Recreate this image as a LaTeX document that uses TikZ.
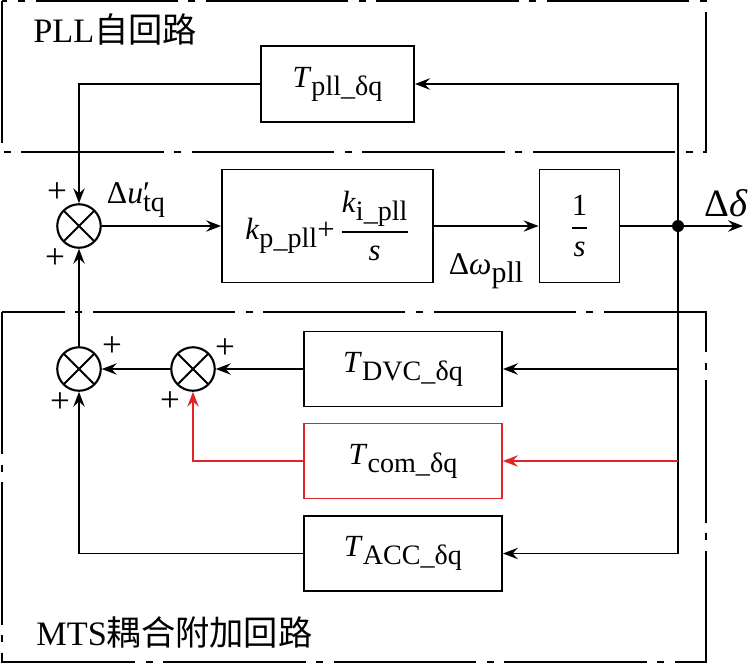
\documentclass[tikz,border=0pt]{standalone}
\usepackage{amsmath}
\usepackage{fontspec}
\setmainfont{Liberation Serif}
\newfontfamily\cjk{Noto Sans CJK SC}
\usepackage{tikz}
\usetikzlibrary{arrows.meta}
\definecolor{comred}{RGB}{222,38,38}
\newcommand{\tsub}[2]{\textit{#1}\raisebox{-4.5pt}{\fontsize{16}{16}\selectfont #2}}
\newcommand{\myfrac}[2]{$\genfrac{}{}{1pt}{0}{\mbox{#1}}{\mbox{#2}}$}
\tikzset{
  myarrow/.style={
    draw=black,
    line width=0.75pt,
    >={Stealth[length=8.5pt, width=6.5pt, inset=3pt]},
    ->,
  },
  myblock/.style={
    draw=black,
    shape=rectangle,
    line width=1.1pt,
    align=center,
    inner sep=0pt,
    font=\fontsize{17.5}{21}\selectfont
  },
  mysum/.style={
    draw=black,
    shape=circle,
    line width=1.2pt,
    inner sep=0pt,
    minimum size=0.87cm,
    path picture={
      \draw [line width=1.1pt]
        (path picture bounding box.north west) -- (path picture bounding box.south east)
        (path picture bounding box.north east) -- (path picture bounding box.south west);
    },
  },
  mydot/.style={
    shape=circle,
    fill=black,
    inner sep=0pt,
    minimum size=0.24cm,
  },
  myplus/.style={
    inner sep=0pt,
    font=\fontsize{20}{20}\selectfont
  },
  mysignal/.style={
    inner sep=0pt,
    font=\fontsize{18}{21}\selectfont
  },
  mylabel/.style={
    anchor=west,
    inner sep=0pt,
    font=\fontsize{19.5}{23}\selectfont
  },
  myregion/.style={
    draw=black,
    line width=1.4pt,
    dash pattern=on 81pt off 6pt on 4pt off 6pt,
  }
}

\begin{document}
\begin{tikzpicture}
    \useasboundingbox (-1.58, 4.52) rectangle (13.50, -8.78);

    % loop regions
    \draw [myregion] (-1.54, 4.50) rectangle (12.54,  1.48);
    \draw [myregion] (-1.54, -1.72) rectangle (12.54, -8.72);
    \node [mylabel] (pllname) at (-0.92,  3.94) {PLL{\cjk 自回路}};
    \node [mylabel] (mtsname) at (-0.86, -8.12) {MTS{\cjk 耦合附加回路}};

    \node [mysum] (s1) at (0.00,  0.00) {};
    \node [mysum] (s2) at (0.00, -2.86) {};
    \node [mysum] (s3) at (2.28, -2.86) {};

    \node [myblock, minimum width=3.06cm, minimum height=1.52cm] (Tpll) at (5.17, 2.84) {\tsub{T}{pll\_δq}};
    \node [myblock, minimum width=4.22cm, minimum height=2.26cm] (pi) at (4.97, 0.00)
      {\tsub{k}{p\_pll}+\,\myfrac{\tsub{k}{i\_pll}}{\textit{s}}};
    \node [myblock, minimum width=1.60cm, minimum height=2.26cm] (inv) at (10.01, 0.00) {\myfrac{1}{\textit{s}}};
    \node [mydot] (tap) at (11.98, 0.00) {};
    \coordinate (out) at (13.28, 0.00);

    \node [myblock, minimum width=3.96cm, minimum height=1.50cm] (Tdvc) at (6.48, -2.86) {\tsub{T}{DVC\_δq}};
    \node [myblock, minimum width=3.96cm, minimum height=1.50cm, draw=comred] (Tcom) at (6.48, -4.70) {\tsub{T}{com\_δq}};
    \node [myblock, minimum width=3.96cm, minimum height=1.50cm] (Tacc) at (6.48, -6.55) {\tsub{T}{ACC\_δq}};

    % signal names
    \node [mysignal] (du) at (1.14,  0.52) {Δ\textit{u}\rlap{′}\raisebox{-4.5pt}{\fontsize{16}{16}\selectfont tq}};
    \node [mysignal] (dw) at (8.14, -0.90) {Δ\textit{ω}\raisebox{-4.5pt}{\fontsize{17}{17}\selectfont pll}};
    \node [mysignal, font=\fontsize{22}{24}\selectfont] (dd) at (12.94, 0.46) {Δ\textit{δ}};

    % signs
    \node [myplus] at ([shift={(-0.44, 0.66)}]s1) {+};
    \node [myplus] at ([shift={(-0.48,-0.66)}]s1) {+};
    \node [myplus] at ([shift={( 0.66, 0.44)}]s2) {+};
    \node [myplus] at ([shift={(-0.38,-0.68)}]s2) {+};
    \node [myplus] at ([shift={( 0.64, 0.40)}]s3) {+};
    \node [myplus] at ([shift={(-0.46,-0.66)}]s3) {+};

    % forward path
    \draw [myarrow] (s1) -- (pi);
    \draw [myarrow] (pi) -- (inv);
    \draw [myarrow] (inv) -- (out);

    % feedback paths
    \draw [myarrow] (tap) |- (Tpll);
    \draw [myarrow] (tap) |- (Tacc);
    \draw [myarrow] (tap |- Tdvc) -- (Tdvc);
    \draw [myarrow, draw=comred] (tap |- Tcom) -- (Tcom);
    \draw [myarrow] (Tpll) -| (s1);
    \draw [myarrow] (Tdvc) -- (s3);
    \draw [myarrow, draw=comred] (Tcom) -| (s3);
    \draw [myarrow] (s3) -- (s2);
    \draw [myarrow] (Tacc) -| (s2);
    \draw [myarrow] (s2) -- (s1);
  \end{tikzpicture}
\end{document}
